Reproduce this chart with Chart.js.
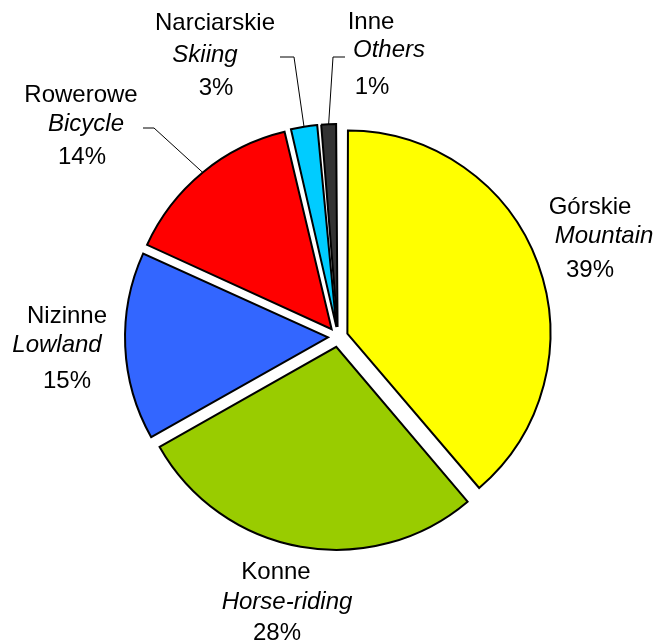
<!DOCTYPE html>
<html>
<head>
<meta charset="utf-8">
<script src="https://cdn.jsdelivr.net/npm/chart.js@4/dist/chart.umd.min.js"></script>
<style>
  html, body { margin: 0; padding: 0; background: #fff; }
  #wrap { position: relative; width: 654px; height: 644px; }
</style>
</head>
<body>
<div id="wrap"><canvas id="chart" width="654" height="644"></canvas></div>
<script>
const categoriesPl = ["Górskie", "Konne", "Nizinne", "Rowerowe", "Narciarskie", "Inne"];
const categoriesEn = ["Mountain", "Horse-riding", "Lowland", "Bicycle", "Skiing", "Others"];
// slice sizes as drawn in the picture (the printed labels are rounded)
const shares = [38.8, 28.0, 15.0, 14.5, 2.3, 1.4];
const percentLabels = ["39%", "28%", "15%", "14%", "3%", "1%"];
const sliceColors = ["#ffff00", "#99cc00", "#3366ff", "#ff0000", "#00ccff", "#333333"];

// label placement, relative to the pie centre: x of each line, y of each line
const labelX = [[252, 266, 252], [-62, -51, -61], [-271, -281, -271], [-257, -252, -256], [-123, -133, -122], [33, 51, 34]];
const labelY = [[-130, -101, -67], [235, 265, 296], [-21, 8, 44], [-242, -213, -180], [-314, -282, -249], [-315, -287, -250]];
// leader lines for the small slices: [elbow, end] relative to centre
const leaders = [null, null, null, [[-184, -209], [-195, -209]], [[-44, -280], [-58, -280]], [[-5, -280], [7, -280]]];

const R = 203;
const OFFSET = 40; // chart.js moves an arc by offset / 4
const FONT = '"Liberation Sans", Arial, sans-serif';

const fixRadius = {
  id: "fixRadius",
  beforeDatasetsDraw(chart) {
    chart.getDatasetMeta(0).data.forEach((arc) => {
      const circ = arc.endAngle - arc.startAngle;
      const fix = 1 - Math.sin(Math.min(Math.PI, circ));
      arc.outerRadius = R - (OFFSET / 4) * fix;
    });
  },
};

const labelsPlugin = {
  id: "sliceLabels",
  afterDatasetsDraw(chart) {
    const ctx = chart.ctx;
    const arcs = chart.getDatasetMeta(0).data;
    const cx = arcs[0].x, cy = arcs[0].y;
    ctx.save();
    ctx.strokeStyle = "#000";
    ctx.lineWidth = 1;
    arcs.forEach((arc, i) => {
      const lead = leaders[i];
      if (!lead) return;
      const mid = (arc.startAngle + arc.endAngle) / 2;
      const r = R + OFFSET / 4;
      ctx.beginPath();
      ctx.moveTo(cx + Math.cos(mid) * r, cy + Math.sin(mid) * r);
      ctx.lineTo(cx + lead[0][0], cy + lead[0][1]);
      ctx.lineTo(cx + lead[1][0], cy + lead[1][1]);
      ctx.stroke();
    });
    ctx.fillStyle = "#000";
    ctx.textAlign = "center";
    ctx.textBaseline = "middle";
    categoriesPl.forEach((name, i) => {
      const lines = [name, categoriesEn[i], percentLabels[i]];
      lines.forEach((txt, j) => {
        ctx.font = `${j === 1 ? "italic " : ""}24px ${FONT}`;
        ctx.fillText(txt, cx + labelX[i][j], cy + labelY[i][j]);
      });
    });
    ctx.restore();
  },
};

new Chart(document.getElementById("chart"), {
  type: "pie",
  data: {
    labels: categoriesPl,
    datasets: [{
      data: shares,
      backgroundColor: sliceColors,
      borderColor: "#000",
      borderWidth: 2,
      borderJoinStyle: "miter",
      offset: OFFSET,
    }],
  },
  options: {
    responsive: false,
    animation: false,
    radius: R,
    layout: { padding: { left: 22, top: 30, right: 0, bottom: 0 } },
    plugins: { legend: { display: false }, tooltip: { enabled: false } },
  },
  plugins: [fixRadius, labelsPlugin],
});
</script>
</body>
</html>
